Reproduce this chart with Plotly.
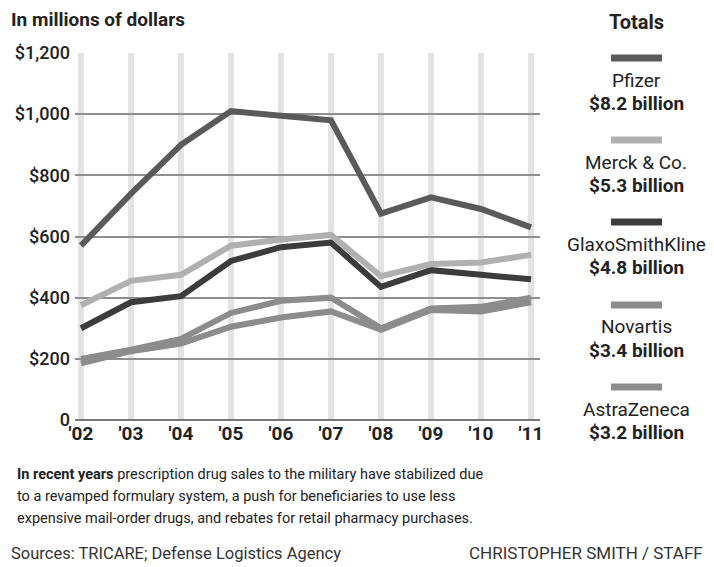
import plotly.graph_objects as go

years = ["'02", "'03", "'04", "'05", "'06", "'07", "'08", "'09", "'10", "'11"]
pfizer = [570, 740, 900, 1010, 995, 980, 675, 728, 690, 630]
merck = [375, 455, 475, 570, 590, 605, 470, 510, 515, 540]
gsk = [300, 385, 405, 520, 565, 580, 435, 490, 475, 460]
novartis = [200, 230, 265, 350, 390, 400, 300, 365, 370, 400]
astra = [185, 225, 250, 305, 335, 355, 295, 360, 355, 385]

companies = ["Pfizer", "Merck & Co.", "GlaxoSmithKline", "Novartis", "AstraZeneca"]
totals = ["$8.2 billion", "$5.3 billion", "$4.8 billion", "$3.4 billion", "$3.2 billion"]
series = [pfizer, merck, gsk, novartis, astra]
colors = ["#5a5a5a", "#b0b0b0", "#3c3c3c", "#8c8c8c", "#8c8c8c"]

FONT = "Roboto"
xs = list(range(len(years)))

fig = go.Figure()
for i in [4, 3, 2, 1, 0]:
    fig.add_trace(go.Scatter(x=xs, y=series[i], mode="lines", name=companies[i],
                             line=dict(color=colors[i], width=6), showlegend=False,
                             hoverinfo="skip"))

fig.update_layout(
    width=714, height=567,
    margin=dict(l=75, r=174, t=53, b=147),
    paper_bgcolor="white", plot_bgcolor="white",
    font=dict(family=FONT, color="#222"),
    xaxis=dict(range=[-0.12, 9.18], tickmode="array", tickvals=xs, ticktext=years,
               showgrid=True, gridcolor="#e3e3e3", gridwidth=6, zeroline=False,
               showline=False, ticks="", tickfont=dict(size=19, family=FONT, weight="bold", color="#222"),
               fixedrange=True),
    yaxis=dict(range=[0, 1200], tickmode="array", tickvals=[0, 200, 400, 600, 800, 1000, 1200],
               ticktext=["0", "$200", "$400", "$600", "$800", "$1,000", "$1,200"],
               showgrid=True, gridcolor="#8f8f8f", gridwidth=1.5, zeroline=True,
               zerolinecolor="#777", zerolinewidth=2, ticks="", ticklabelstandoff=4,
               tickfont=dict(size=18, family=FONT, weight=500, color="#222"), fixedrange=True),
)

W, H = 714, 567
L, R, T, B = 75, 174, 53, 147
pw, ph = W - L - R, H - T - B

def px(xp):
    return (xp - L) / pw

def py(yp):
    return (H - B - yp) / ph

anns = []
anns.append(dict(text="<b>In millions of dollars</b>", x=px(9), y=py(20), xanchor="left", yanchor="middle",
                 font=dict(size=19, color="#222")))
anns.append(dict(text="<b>Totals</b>", x=px(636), y=py(22), xanchor="center", yanchor="middle",
                 font=dict(size=20, color="#222")))
shapes = []
sw_y = [58, 140, 222, 305, 387]
for i in range(5):
    shapes.append(dict(type="line", xref="paper", yref="paper", x0=px(611), x1=px(662),
                       y0=py(sw_y[i]), y1=py(sw_y[i]), line=dict(color=colors[i], width=7)))
    anns.append(dict(text=companies[i], x=px(636), y=py(sw_y[i] + 22), xanchor="center", yanchor="middle",
                     font=dict(size=19, color="#222")))
    anns.append(dict(text="<b>" + totals[i] + "</b>", x=px(636), y=py(sw_y[i] + 45), xanchor="center",
                     yanchor="middle", font=dict(size=19, color="#222")))

body = ["<b>In recent years</b> prescription drug sales to the military have stabilized due",
        "to a revamped formulary system, a push for beneficiaries to use less",
        "expensive mail-order drugs, and rebates for retail pharmacy purchases."]
for j, line in enumerate(body):
    anns.append(dict(text=line, x=px(15), y=py(474 + j * 22), xanchor="left", yanchor="middle",
                     font=dict(size=14.5, color="#222")))
anns.append(dict(text="Sources: TRICARE; Defense Logistics Agency", x=px(9), y=py(553), xanchor="left",
                 yanchor="middle", font=dict(size=16.5, color="#333")))
anns.append(dict(text="CHRISTOPHER SMITH / STAFF", x=px(705), y=py(553), xanchor="right",
                 yanchor="middle", font=dict(size=17, color="#333")))
for a in anns:
    a.update(xref="paper", yref="paper", showarrow=False)
fig.update_layout(annotations=anns, shapes=shapes)

fig.write_html("out.html")
